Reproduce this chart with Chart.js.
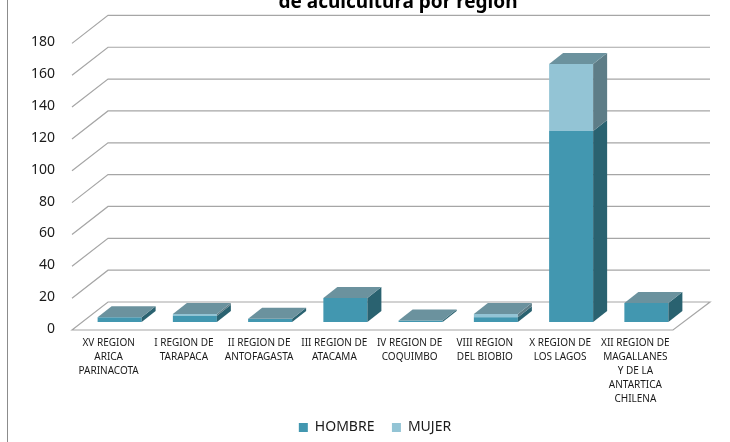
<!DOCTYPE html>
<html>
<head>
<meta charset="utf-8">
<script src="https://cdn.jsdelivr.net/npm/chart.js@4.4.0/dist/chart.umd.min.js"></script>
<style>
  html, body { margin: 0; padding: 0; background: #fff; }
  #wrap { width: 730px; height: 442px; position: relative; }
</style>
</head>
<body>
<div id="wrap"><canvas id="chart"></canvas></div>
<script>
const titleText = "de acuicultura por region";

const regions = [
  ["XV REGION", "ARICA", "PARINACOTA"],
  ["I REGION DE", "TARAPACA"],
  ["II REGION DE", "ANTOFAGASTA"],
  ["III REGION DE", "ATACAMA"],
  ["IV REGION DE", "COQUIMBO"],
  ["VIII REGION", "DEL BIOBIO"],
  ["X REGION DE", "LOS LAGOS"],
  ["XII REGION DE", "MAGALLANES", "Y DE LA", "ANTARTICA", "CHILENA"],
];
const hombre = [3, 4, 2, 15, 1, 3, 120, 12];
const mujer  = [0, 1, 0, 0, 0, 2, 42, 0];
const yMin = 0, yMax = 180, yStep = 20;

// 3d look: offset of the bar depth and of the floor / back wall
const DX = 14, DY = -11;
const topColor = "#6b929e";
const gridColor = "#a6a6a6";

const depthPlugin = {
  id: "depth",
  afterLayout(chart) {
    // legend sits a little left of the plot centre in the original
    chart.legend.left -= 16;
  },
  beforeDatasetsDraw(chart) {
    const { ctx, chartArea: a, scales: { y } } = chart;
    const fl = a.left - 10, bl = a.left + 26, fr = a.right - 11, br = a.right + 26;
    ctx.save();
    ctx.strokeStyle = gridColor;
    ctx.lineWidth = 1.2;
    y.ticks.forEach(t => {
      const py = y.getPixelForValue(t.value);
      ctx.beginPath();
      ctx.moveTo(fl, py + 8);
      ctx.lineTo(bl, py - 20);
      ctx.lineTo(br, py - 20);
      if (t.value === 0) { ctx.lineTo(fr, py + 8); ctx.closePath(); }
      ctx.stroke();
    });
    ctx.restore();
  },
  afterDatasetsDraw(chart) {
    const ctx = chart.ctx;
    const metas = chart.getSortedVisibleDatasetMetas();
    ctx.save();
    chart.data.labels.forEach((_, i) => {
      let topBar = null;
      metas.forEach(m => {
        const ds = chart.data.datasets[m.index];
        if (!ds.data[i]) return;
        const { x, y, base, width } = m.data[i].getProps(["x", "y", "base", "width"], true);
        const r = x + width / 2;
        ctx.fillStyle = ds.sideColor;
        ctx.beginPath();
        ctx.moveTo(r, y);
        ctx.lineTo(r + DX, y + DY);
        ctx.lineTo(r + DX, base + DY);
        ctx.lineTo(r, base);
        ctx.closePath();
        ctx.fill();
        topBar = { x, y, width };
      });
      if (topBar) {
        const l = topBar.x - topBar.width / 2, r = topBar.x + topBar.width / 2;
        ctx.fillStyle = topColor;
        ctx.beginPath();
        ctx.moveTo(l, topBar.y);
        ctx.lineTo(l + DX, topBar.y + DY);
        ctx.lineTo(r + DX, topBar.y + DY);
        ctx.lineTo(r, topBar.y);
        ctx.closePath();
        ctx.fill();
      }
    });
    ctx.restore();
  },
  afterDraw(chart) {
    const ctx = chart.ctx;
    ctx.save();
    ctx.strokeStyle = "#8c8c8c";
    ctx.lineWidth = 1;
    ctx.beginPath();
    ctx.moveTo(7.5, 0);
    ctx.lineTo(7.5, chart.height);
    ctx.stroke();
    ctx.fillStyle = "#000";
    ctx.font = "bold 19px 'Noto Sans'";
    ctx.textAlign = "center";
    ctx.textBaseline = "alphabetic";
    ctx.fillText(titleText, 398, 8);
    ctx.restore();
  }
};

Chart.defaults.font.family = "'Noto Sans', sans-serif";
Chart.defaults.color = "#1a1a1a";

new Chart(document.getElementById("chart"), {
  type: "bar",
  data: {
    labels: regions,
    datasets: [
      { label: "HOMBRE", data: hombre, backgroundColor: "#4297b0", sideColor: "#2a6270" },
      { label: "MUJER", data: mujer, backgroundColor: "#93c4d5", sideColor: "#5e7d87" },
    ]
  },
  options: {
    responsive: true,
    maintainAspectRatio: false,
    animation: false,
    layout: { padding: { left: 30, right: 46, top: 35, bottom: -2.5 } },
    datasets: { bar: { categoryPercentage: 0.585, barPercentage: 1, borderWidth: 0 } },
    scales: {
      x: {
        stacked: true,
        grid: { display: false, drawTicks: false },
        border: { display: false },
        ticks: {
          autoSkip: false, maxRotation: 0, padding: 14, labelOffset: -11,
          font: { size: 10, lineHeight: 1.4 }
        },
        afterFit(s) { s.height = 81; }
      },
      y: {
        stacked: true,
        min: yMin, max: yMax,
        grid: { display: false, drawTicks: false },
        border: { display: false },
        ticks: { stepSize: yStep, padding: 27, labelOffset: 7, font: { size: 14 } },
        afterFit(s) { s.width = 52; }
      }
    },
    plugins: {
      legend: {
        position: "bottom",
        fullSize: false,
        labels: { boxWidth: 9, boxHeight: 9, padding: 17.5, font: { size: 14 } }
      },
      tooltip: { enabled: false }
    }
  },
  plugins: [depthPlugin]
});
</script>
</body>
</html>
